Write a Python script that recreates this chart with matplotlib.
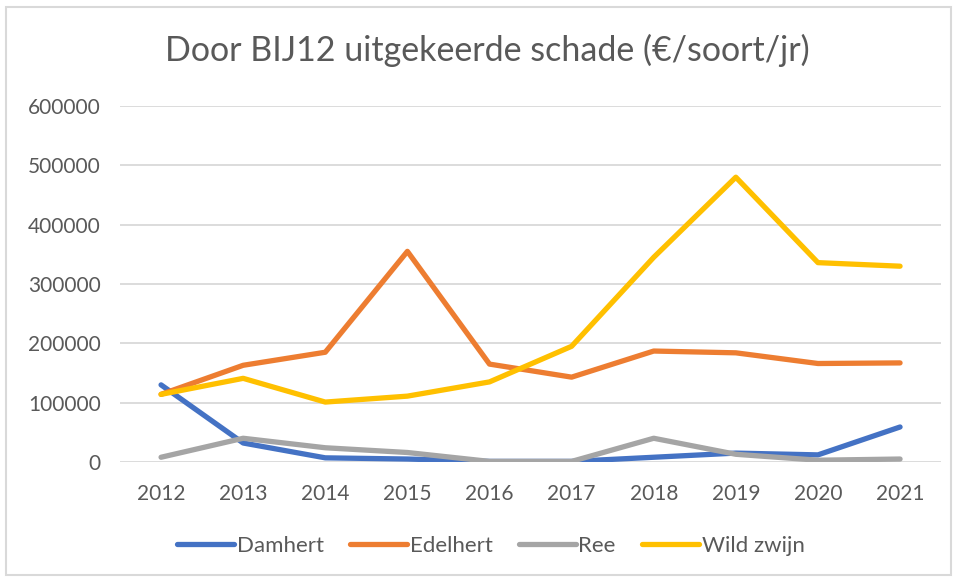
import matplotlib.pyplot as plt
from matplotlib.patches import Rectangle

plt.rcParams['font.family'] = ['Lato', 'DejaVu Sans']

years = ['2012', '2013', '2014', '2015', '2016', '2017', '2018', '2019', '2020', '2021']
damhert = [130000, 32000, 7000, 5000, 1000, 1000, 8000, 15000, 12000, 59000]
edelhert = [114000, 163000, 185000, 355000, 165000, 143000, 187000, 184000, 166000, 167000]
ree = [8000, 40000, 24000, 16000, 1000, 1000, 40000, 13000, 3000, 5000]
wild_zwijn = [114000, 141000, 101000, 111000, 135000, 195000, 345000, 480000, 336000, 330000]

series = [('Damhert', damhert, '#4472C4'),
          ('Edelhert', edelhert, '#ED7D31'),
          ('Ree', ree, '#A5A5A5'),
          ('Wild zwijn', wild_zwijn, '#FFC000')]

fig = plt.figure(figsize=(9.57, 5.78), dpi=100)
ax = fig.add_axes([0.1254, 0.2007, 0.858, 0.6159])

x = list(range(len(years)))
for name, vals, col in series:
    ax.plot(x, vals, color=col, lw=3.8, label=name, solid_capstyle='round', solid_joinstyle='round')

ax.set_xlim(-0.5, len(years) - 0.5)
ax.set_ylim(0, 600000)
ax.set_yticks(range(0, 600001, 100000))
ax.set_xticks(x)
ax.set_xticklabels(years)
ax.yaxis.grid(True, color='#D9D9D9', lw=1.3)
ax.set_axisbelow(True)
for s in ax.spines.values():
    s.set_visible(False)
ax.tick_params(length=0, labelsize=15, labelcolor='#595959')
ax.tick_params(axis='y', pad=14)
ax.tick_params(axis='x', pad=16)

fig.text(0.509, 0.913, 'Door BIJ12 uitgekeerde schade (€/soort/jr)', ha='center', va='center',
         fontsize=24.5, color='#595959')

fig.legend(loc='center', bbox_to_anchor=(0.513, 0.055), ncol=4, frameon=False,
           fontsize=16, labelcolor='#595959', handlelength=2.55, handletextpad=0.12,
           columnspacing=1.2)

fig.patches.append(Rectangle((0.006, 0.006), 0.988, 0.982, transform=fig.transFigure,
                             fill=False, edgecolor='#D9D9D9', lw=1.5))

fig.savefig('out.png', dpi=100)
